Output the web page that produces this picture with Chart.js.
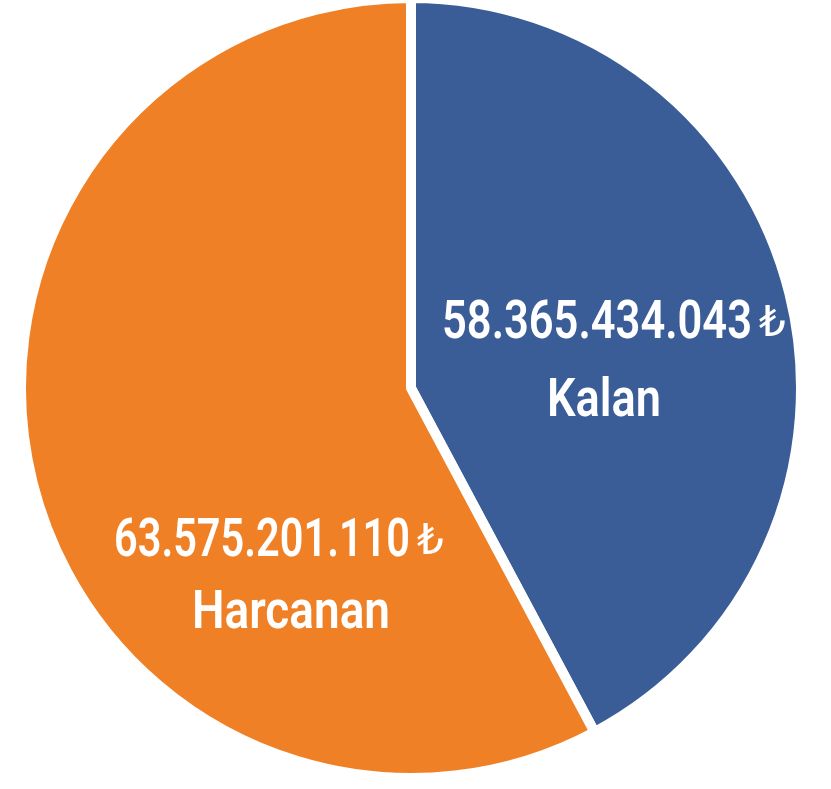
<!DOCTYPE html>
<html>
<head>
<meta charset="utf-8">
<script src="https://cdn.jsdelivr.net/npm/chart.js@4"></script>
<style>
  html, body { margin: 0; padding: 0; background: #ffffff; }
  #wrap { position: relative; width: 831px; height: 789px; }
</style>
</head>
<body>
<div id="wrap"><canvas id="pieChart" width="831" height="789"></canvas></div>
<script>
// Categories and values
const categories = ['Kalan', 'Harcanan'];
const amounts = ['58.365.434.043', '63.575.201.110'];
// slice shares as drawn in the picture (percent)
const sliceShares = [42.2, 57.8];
const sliceColors = ['#3a5d98', '#f08025'];

// Draws the amount + category text inside each slice
const sliceLabels = {
    id: 'sliceLabels',
    afterDatasetsDraw(chart) {
        const ctx = chart.ctx;
        const arcs = chart.getDatasetMeta(0).data;
        const cx = arcs[0].x;
        const cy = arcs[0].y;
        // offsets from pie center + squeezed widths (font is condensed in the original)
        const spots = [
            { valueX: 186, valueY: -50, nameX: 193, nameY: 28, valueW: 310, nameW: 114 },
            { valueX: -149, valueY: 168, nameX: -120, nameY: 240, valueW: 296, nameW: 198 }
        ];
        ctx.save();
        ctx.fillStyle = '#ffffff';
        ctx.textBaseline = 'alphabetic';
        categories.forEach((name, i) => {
            const s = spots[i];
            ctx.textAlign = 'center';
            ctx.font = '600 54px Roboto, "Noto Sans", sans-serif';
            ctx.fillText(amounts[i], cx + s.valueX, cy + s.valueY, s.valueW);
            ctx.fillText(name, cx + s.nameX, cy + s.nameY, s.nameW);
            // lira sign, lighter and a bit smaller
            ctx.textAlign = 'left';
            ctx.font = '400 42px "DejaVu Sans", sans-serif';
            ctx.fillText('\u20BA', cx + s.valueX + s.valueW / 2 + 7, cy + s.valueY - 2);
        });
        ctx.restore();
    }
};

const ctx = document.getElementById('pieChart').getContext('2d');
new Chart(ctx, {
    type: 'pie',
    data: {
        labels: categories,
        datasets: [{
            data: sliceShares,
            backgroundColor: sliceColors,
            borderColor: '#ffffff',
            borderWidth: 10,
            borderJoinStyle: 'miter'
        }]
    },
    options: {
        responsive: false,
        animation: false,
        radius: 390,
        layout: { padding: { left: 0, right: 9, top: 0, bottom: 13 } },
        plugins: {
            legend: { display: false },
            tooltip: { enabled: false }
        }
    },
    plugins: [sliceLabels]
});
</script>
</body>
</html>
